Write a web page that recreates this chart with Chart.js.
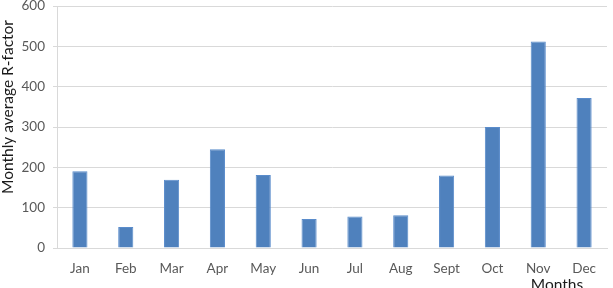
<!DOCTYPE html>
<html>
<head>
<meta charset="utf-8">
<script src="https://cdn.jsdelivr.net/npm/chart.js@4"></script>
<style>
  html, body { margin: 0; padding: 0; background: #fff; }
  #wrap { width: 613px; height: 288px; position: relative; }
</style>
</head>
<body>
<div id="wrap"><canvas id="rChart"></canvas></div>
<script>
// chart data
const months = ['Jan', 'Feb', 'Mar', 'Apr', 'May', 'Jun', 'Jul', 'Aug', 'Sept', 'Oct', 'Nov', 'Dec'];
const rFactor = [190, 52, 169, 245, 181, 72, 78, 81, 180, 300, 512, 372];
const yTicks = [0, 100, 200, 300, 400, 500, 600];

const yTitle = 'Monthly average R-factor';
const xTitle = 'Months';

// axis titles are drawn by hand so they sit where the original put them
const axisTitles = {
  id: 'axisTitles',
  afterDraw(chart) {
    const ctx = chart.ctx;
    const area = chart.chartArea;
    ctx.save();
    ctx.fillStyle = '#1a1a1a';
    ctx.font = '15.5px Lato, "Open Sans", sans-serif';
    ctx.textAlign = 'center';
    ctx.textBaseline = 'middle';
    ctx.translate(8, 107);
    ctx.rotate(-Math.PI / 2);
    ctx.fillText(yTitle, 0, 0);
    ctx.restore();

    ctx.save();
    ctx.fillStyle = '#1a1a1a';
    ctx.font = '15.5px Lato, "Open Sans", sans-serif';
    ctx.textAlign = 'center';
    ctx.textBaseline = 'alphabetic';
    ctx.fillText(xTitle, 557, area.bottom + 42);
    ctx.restore();
  }
};

const tickFont = { family: 'Lato, "Open Sans", sans-serif', size: 13.5 };

const ctx = document.getElementById('rChart').getContext('2d');
new Chart(ctx, {
  type: 'bar',
  data: {
    labels: months,
    datasets: [{
      label: 'R-factor',
      data: rFactor,
      backgroundColor: '#4f81bd',
      borderColor: '#5a8ccb',
      borderWidth: 1,
      barPercentage: 0.33,
      categoryPercentage: 1
    }]
  },
  plugins: [axisTitles],
  options: {
    responsive: true,
    maintainAspectRatio: false,
    animation: false,
    layout: { padding: { top: 6, right: 6, left: 0, bottom: 0 } },
    plugins: {
      legend: { display: false },
      tooltip: { enabled: false }
    },
    scales: {
      x: {
        grid: { display: false, drawTicks: false },
        border: { display: true, color: '#d9d9d9', width: 1 },
        ticks: {
          color: '#595959',
          font: tickFont,
          padding: 13,
          maxRotation: 0,
          autoSkip: false
        },
        afterFit(scale) { scale.height = 40; }
      },
      y: {
        min: 0,
        max: 600,
        afterBuildTicks(scale) { scale.ticks = yTicks.map(v => ({ value: v })); },
        grid: { color: '#d9d9d9', tickLength: 4, lineWidth: 1 },
        border: { display: true, color: '#d9d9d9', width: 1 },
        ticks: {
          color: '#595959',
          font: tickFont,
          padding: 8
        },
        afterFit(scale) {
          scale.width = 57;
          scale.paddingTop = 0;
          scale.paddingBottom = 0;
        }
      }
    }
  }
});
</script>
</body>
</html>
